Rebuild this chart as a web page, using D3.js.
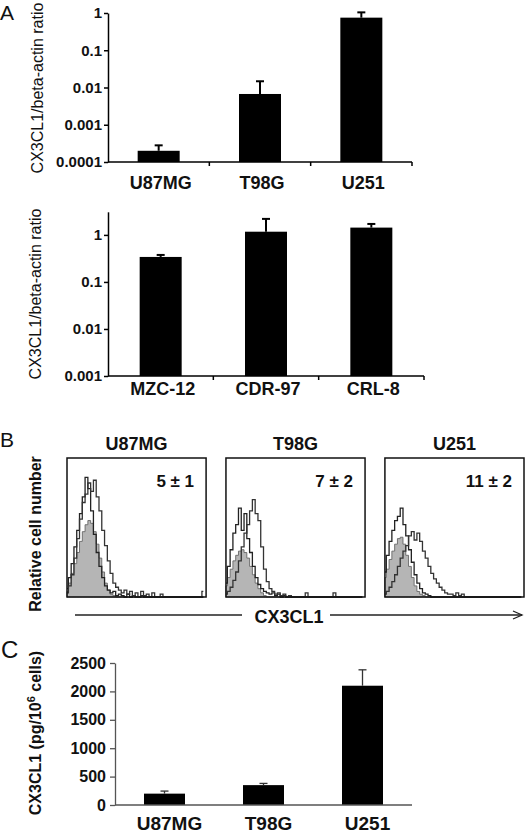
<!DOCTYPE html>
<html><head><meta charset="utf-8">
<script src="https://cdn.jsdelivr.net/npm/d3@7"></script>
<style>
body{margin:0;background:#fff}
svg{display:block;background:#fff}
text{font-family:"Liberation Sans",Arial,Helvetica,sans-serif;fill:#111}
</style>
</head><body>
<svg id="c" width="525" height="835"></svg>
<script>
// ---------- Panel A (top): CX3CL1 / beta-actin ratio, glioma lines ----------
const cellLinesA1 = ["U87MG", "T98G", "U251"];
const ratioA1 = [0.0002, 0.0067, 0.75];
const errTopA1 = [0.00028, 0.0147, 1.04];
const ticksA1 = [0.0001, 0.001, 0.01, 0.1, 1];
const tickLabelsA1 = ["0.0001", "0.001", "0.01", "0.1", "1"];

// ---------- Panel A (bottom): primary cultures ----------
const cellLinesA2 = ["MZC-12", "CDR-97", "CRL-8"];
const ratioA2 = [0.34, 1.17, 1.43];
const errTopA2 = [0.375, 2.19, 1.71];
const ticksA2 = [0.001, 0.01, 0.1, 1];
const tickLabelsA2 = ["0.001", "0.01", "0.1", "1"];

// ---------- Panel B: flow cytometry histograms (relative counts per bin) ----------
const flowTitles = ["U87MG", "T98G", "U251"];
const flowMFI = ["5 \u00b1 1", "7 \u00b1 2", "11 \u00b1 2"];
const isotypeU87 = [0.04,0.10,0.17,0.24,0.32,0.40,0.47,0.52,0.55,0.53,0.47,0.38,0.28,0.18,0.10,0.05,0.02,0.01,0,0, 0,0,0,0,0,0,0,0,0,0, 0,0,0,0,0,0,0,0,0,0, 0,0,0,0,0,0,0,0,0,0];
const innerU87 = [0.06,0.14,0.24,0.36,0.48,0.60,0.72,0.86,0.78,0.62,0.45,0.32,0.22,0.14,0.08,0.05,0.03,0.04,0.01,0.02, 0.01,0,0.02,0,0.01,0,0,0.01,0,0, 0,0,0,0,0,0,0,0,0,0, 0,0,0,0,0,0,0,0,0,0];
const stainU87 = [0.03,0.08,0.16,0.28,0.42,0.56,0.68,0.74,0.82,0.76,0.84,0.72,0.62,0.48,0.37,0.26,0.17,0.10,0.07,0.05, 0.03,0.05,0.02,0.04,0.01,0.03,0,0.04,0.01,0.02, 0,0.03,0,0,0.02,0,0,0,0,0, 0,0,0,0,0,0,0,0,0,0.04];
const isotypeT98 = [0.08,0.14,0.20,0.26,0.30,0.33,0.34,0.32,0.28,0.22,0.16,0.10,0.06,0.03,0.01,0,0,0,0,0, 0,0,0,0,0,0,0,0,0,0, 0,0,0,0,0,0,0,0,0,0, 0,0,0,0,0,0,0,0,0,0];
const innerT98 = [0.10,0.22,0.34,0.46,0.52,0.64,0.48,0.60,0.42,0.32,0.22,0.14,0.09,0.06,0.04,0.03,0.02,0.03,0.01,0.02, 0,0.01,0,0,0,0,0,0,0,0, 0,0,0,0,0,0,0,0,0,0, 0,0,0,0,0,0,0,0,0,0];
const stainT98 = [0.02,0.04,0.07,0.12,0.18,0.26,0.36,0.46,0.52,0.62,0.70,0.60,0.55,0.36,0.20,0.11,0.06,0.04,0.02,0.03, 0.01,0.02,0,0.01,0,0,0,0,0,0.03, 0,0,0,0,0,0,0,0,0,0.03, 0,0,0,0,0,0,0,0,0,0];
const isotypeU251 = [0.14,0.20,0.27,0.33,0.38,0.42,0.43,0.38,0.30,0.22,0.14,0.08,0.04,0.02,0.01,0,0,0,0,0, 0,0,0,0,0,0,0,0,0,0, 0,0,0,0,0,0,0,0,0,0, 0,0,0,0,0,0,0,0,0,0];
const innerU251 = [0.18,0.30,0.40,0.48,0.55,0.58,0.64,0.52,0.44,0.34,0.25,0.16,0.10,0.06,0.03,0.02,0.01,0,0,0, 0,0,0,0,0,0,0,0,0,0, 0,0,0,0,0,0,0,0,0,0, 0,0,0,0,0,0,0,0,0,0];
const stainU251 = [0.02,0.04,0.07,0.11,0.16,0.22,0.28,0.33,0.37,0.44,0.47,0.41,0.46,0.40,0.33,0.28,0.22,0.17,0.13,0.10, 0.07,0.05,0.03,0.02,0.02,0.01,0.03,0.01,0.02,0, 0,0,0,0,0,0,0,0,0,0, 0,0,0,0,0,0,0,0,0,0];

// ---------- Panel C: ELISA ----------
const cellLinesC = ["U87MG", "T98G", "U251"];
const elisaC = [200, 350, 2100];
const errTopC = [245, 380, 2380];
const ticksC = [0, 500, 1000, 1500, 2000, 2500];

// =====================================================================
const svg = d3.select("#c");
const FONT = '"Liberation Sans",Arial,Helvetica,sans-serif';

function panelLetter(t, x, y, size) {
  svg.append("text").attr("x", x).attr("y", y).attr("font-size", size).text(t);
}

function logBarPanel(opts) {
  const g = svg.append("g");
  const x = d3.scaleBand().domain(opts.cats).range(opts.xr).padding(0);
  const y = d3.scaleLog().domain(opts.yd).range(opts.yr);
  const bw = 42;
  g.selectAll("rect.bar").data(opts.vals).join("rect")
    .attr("x", (d, i) => x(opts.cats[i]) + x.bandwidth() / 2 - bw / 2)
    .attr("width", bw)
    .attr("y", d => y(d))
    .attr("height", d => y(opts.yd[0]) - y(d))
    .attr("fill", "#000");
  opts.errs.forEach((e, i) => {
    const cx = x(opts.cats[i]) + x.bandwidth() / 2;
    g.append("line").attr("x1", cx).attr("x2", cx).attr("y1", y(opts.vals[i])).attr("y2", y(e))
      .attr("stroke", "#000").attr("stroke-width", 2);
    g.append("line").attr("x1", cx - 4).attr("x2", cx + 4).attr("y1", y(e)).attr("y2", y(e))
      .attr("stroke", "#000").attr("stroke-width", 2);
  });
  const ax = d3.axisLeft(y).tickValues(opts.ticks).tickFormat((d, i) => opts.labels[i])
    .tickSize(4).tickSizeOuter(0).tickPadding(2);
  const ag = g.append("g").attr("transform", `translate(${opts.xr[0]},0)`).call(ax);
  ag.select(".domain").attr("stroke", "#000").attr("stroke-width", 1.5);
  ag.selectAll(".tick line").attr("stroke", "#000").attr("stroke-width", 1.5);
  ag.selectAll(".tick text").attr("font-family", FONT).attr("font-size", 15).attr("font-weight", "bold").attr("fill", "#111");
  const base = y(opts.yd[0]);
  g.append("line").attr("x1", opts.xr[0]).attr("x2", opts.xr[1]).attr("y1", base).attr("y2", base)
    .attr("stroke", "#000").attr("stroke-width", 1.5);
  const edges = opts.cats.map(c => x(c) + x.bandwidth());
  g.selectAll("line.xt").data(edges).join("line")
    .attr("x1", d => d).attr("x2", d => d).attr("y1", base).attr("y2", base + 4)
    .attr("stroke", "#000").attr("stroke-width", 1.5);
  g.selectAll("text.cat").data(opts.cats).join("text")
    .attr("x", d => x(d) + x.bandwidth() / 2 + 2).attr("y", opts.labelY)
    .attr("text-anchor", "middle").attr("font-size", 18).attr("font-weight", "bold").text(d => d);
  g.append("text").attr("transform", `translate(${opts.ylx},${opts.yly}) rotate(-90)`)
    .attr("text-anchor", "middle").attr("font-size", 16).attr("fill", "#222")
    .text("CX3CL1/beta-actin ratio");
}

panelLetter("A", 0, 20, 21);
logBarPanel({cats: cellLinesA1, vals: ratioA1, errs: errTopA1, ticks: ticksA1, labels: tickLabelsA1,
  xr: [108, 412], yd: [0.0001, 1], yr: [162, 13], labelY: 189, ylx: 43, yly: 88});
logBarPanel({cats: cellLinesA2, vals: ratioA2, errs: errTopA2, ticks: ticksA2, labels: tickLabelsA2,
  xr: [108, 424], yd: [0.001, 3.1], yr: [376, 211.8], labelY: 395, ylx: 41, yly: 294});

// ---------- Panel B ----------
panelLetter("B", 0, 447, 21);
const boxes = d3.scaleBand().domain(flowTitles).range([67, 524]).paddingInner(0.125).paddingOuter(0);
const hy = d3.scaleLinear().domain([0, 1]).range([597, 458]);
const flowSets = [
  [isotypeU87, innerU87, stainU87],
  [isotypeT98, innerT98, stainT98],
  [isotypeU251, innerU251, stainU251]
];
flowTitles.forEach((t, k) => {
  const x0 = boxes(t), w = boxes.bandwidth();
  const hx = d3.scaleLinear().domain([0, 50]).range([x0, x0 + w]);
  const [iso, inner, stain] = flowSets[k];
  const area = d3.area().x((d, i) => hx(i)).y0(hy(0)).y1(d => hy(d)).curve(d3.curveStep);
  const line = d3.line().x((d, i) => hx(i)).y(d => hy(d)).curve(d3.curveStep);
  const g = svg.append("g");
  g.append("path").attr("d", area(iso)).attr("fill", "#b5b5b5").attr("stroke", "#666").attr("stroke-width", 0.9);
  g.append("path").attr("d", line(inner)).attr("fill", "none").attr("stroke", "#222").attr("stroke-width", 1.3);
  g.append("path").attr("d", line(stain)).attr("fill", "none").attr("stroke", "#333").attr("stroke-width", 1.3);
  g.append("rect").attr("x", x0).attr("y", 458).attr("width", w).attr("height", 139)
    .attr("fill", "none").attr("stroke", "#111").attr("stroke-width", 1.5);
  g.append("text").attr("x", x0 + w / 2).attr("y", 450).attr("text-anchor", "middle")
    .attr("font-size", 18).attr("font-weight", "bold").text(t);
  g.append("text").attr("x", x0 + w - 12).attr("y", 487).attr("text-anchor", "end")
    .attr("font-size", 17).attr("font-weight", "bold").text(flowMFI[k]);
});
svg.append("text").attr("transform", "translate(41,534) rotate(-90)").attr("text-anchor", "middle")
  .attr("font-size", 16).attr("font-weight", "bold").text("Relative cell number");
svg.append("line").attr("x1", 75).attr("x2", 242).attr("y1", 615).attr("y2", 615).attr("stroke", "#222").attr("stroke-width", 1.3);
svg.append("text").attr("x", 289).attr("y", 623).attr("text-anchor", "middle").attr("font-size", 18).attr("font-weight", "bold").text("CX3CL1");
svg.append("line").attr("x1", 330).attr("x2", 522).attr("y1", 615).attr("y2", 615).attr("stroke", "#222").attr("stroke-width", 1.3);
svg.append("path").attr("d", "M513,611 L522,615 L513,619").attr("fill", "none").attr("stroke", "#222").attr("stroke-width", 1.3);

// ---------- Panel C ----------
panelLetter("C", 1, 658, 24);
(function () {
  const g = svg.append("g");
  const x = d3.scaleBand().domain(cellLinesC).range([115, 412]).padding(0);
  const y = d3.scaleLinear().domain([0, 2500]).range([805, 663]);
  const bw = 41;
  g.selectAll("rect").data(elisaC).join("rect")
    .attr("x", (d, i) => x(cellLinesC[i]) + x.bandwidth() / 2 - bw / 2)
    .attr("width", bw).attr("y", d => y(d)).attr("height", d => y(0) - y(d)).attr("fill", "#000");
  errTopC.forEach((e, i) => {
    const cx = x(cellLinesC[i]) + x.bandwidth() / 2;
    g.append("line").attr("x1", cx).attr("x2", cx).attr("y1", y(elisaC[i])).attr("y2", y(e)).attr("stroke", "#333").attr("stroke-width", 1.3);
    g.append("line").attr("x1", cx - 4).attr("x2", cx + 4).attr("y1", y(e)).attr("y2", y(e)).attr("stroke", "#333").attr("stroke-width", 1.3);
  });
  const ax = d3.axisLeft(y).tickValues(ticksC).tickSize(5).tickSizeOuter(0).tickPadding(4).tickFormat(d3.format("d"));
  const ag = g.append("g").attr("transform", "translate(115,0)").call(ax);
  ag.select(".domain").attr("stroke", "#555").attr("stroke-width", 1.3);
  ag.selectAll(".tick line").attr("stroke", "#555").attr("stroke-width", 1.3);
  ag.selectAll(".tick text").attr("font-family", FONT).attr("font-size", 16).attr("font-weight", "bold").attr("fill", "#111");
  g.append("line").attr("x1", 115).attr("x2", 412).attr("y1", 805).attr("y2", 805).attr("stroke", "#555").attr("stroke-width", 1.3);
  g.selectAll("text.cat").data(cellLinesC).join("text")
    .attr("x", d => x(d) + x.bandwidth() / 2 + 5).attr("y", 830).attr("text-anchor", "middle")
    .attr("font-size", 19).attr("font-weight", "bold").text(d => d);
  const yl = g.append("text").attr("transform", "translate(41,733) rotate(-90)").attr("text-anchor", "middle")
    .attr("font-size", 16).attr("font-weight", "bold");
  yl.append("tspan").text("CX3CL1 (pg/10");
  yl.append("tspan").attr("dy", -6).attr("font-size", 11).text("6");
  yl.append("tspan").attr("dy", 6).text(" cells)");
})();
</script>
</body></html>
